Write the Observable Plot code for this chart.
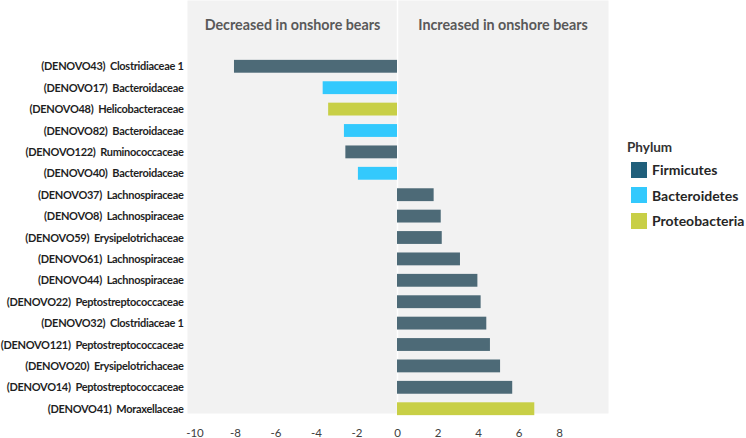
<!DOCTYPE html>
<html>
<head>
<meta charset="utf-8">
<script src="https://cdn.jsdelivr.net/npm/d3@7"></script>
<script src="https://cdn.jsdelivr.net/npm/@observablehq/plot@0.6"></script>
<style>
  html, body { margin: 0; padding: 0; background: #fff; }
  #wrap { position: relative; width: 746px; height: 438px; font-family: Lato, "Open Sans", sans-serif; }
  #wrap g[aria-label="y-axis tick label"] text { letter-spacing: -0.3px; }
  #legend { position: absolute; left: 627px; top: 139px; color: #262626; }
  #legend .title { font-weight: 700; font-size: 13.5px; color: #333; margin-bottom: 2px; }
  #legend .item { display: flex; align-items: center; height: 25.6px; font-weight: 700; font-size: 14px; }
  #legend .sw { width: 16px; height: 16px; margin-left: 4px; margin-right: 5px; }
</style>
</head>
<body>
<div id="wrap"></div>
<script>
const ids = ["DENOVO43","DENOVO17","DENOVO48","DENOVO82","DENOVO122","DENOVO40","DENOVO37","DENOVO8","DENOVO59","DENOVO61","DENOVO44","DENOVO22","DENOVO32","DENOVO121","DENOVO20","DENOVO14","DENOVO41"];
const families = ["Clostridiaceae 1","Bacteroidaceae","Helicobacteraceae","Bacteroidaceae","Ruminococcaceae","Bacteroidaceae","Lachnospiraceae","Lachnospiraceae","Erysipelotrichaceae","Lachnospiraceae","Lachnospiraceae","Peptostreptococcaceae","Clostridiaceae 1","Peptostreptococcaceae","Erysipelotrichaceae","Peptostreptococcaceae","Moraxellaceae"];
const phyla = ["Firmicutes","Bacteroidetes","Proteobacteria","Bacteroidetes","Firmicutes","Bacteroidetes","Firmicutes","Firmicutes","Firmicutes","Firmicutes","Firmicutes","Firmicutes","Firmicutes","Firmicutes","Firmicutes","Firmicutes","Proteobacteria"];
const values = [-8.05,-3.67,-3.4,-2.62,-2.55,-1.93,1.81,2.16,2.21,3.11,3.97,4.13,4.41,4.59,5.09,5.69,6.78];
const phylumNames = ["Firmicutes","Bacteroidetes","Proteobacteria"];
const phylumColors = ["#4d6a77","#33c9fd","#c8cf46"];
const legendColors = ["#205f7b","#33c9fd","#c8cf46"];
const xTicks = [-10,-8,-6,-4,-2,0,2,4,6,8];
const headers = ["Decreased in onshore bears","Increased in onshore bears"];

const xDomain = [-10.37, 10.42];
const labels = ids.map((id, i) => `(${id})\u00a0 ${families[i]}`);
const rows = ids.map((id, i) => ({label: labels[i], value: values[i], phylum: phyla[i]}));
const headerRows = headers.map((h, i) => ({text: h, x: i === 0 ? xDomain[0] / 2 : xDomain[1] / 2}));

const chart = Plot.plot({
  width: 746,
  height: 438,
  marginLeft: 187,
  marginRight: 138,
  marginTop: 0,
  marginBottom: 25,
  style: {fontFamily: "Lato, 'Open Sans', sans-serif", background: "white"},
  x: {domain: xDomain},
  y: {domain: labels, range: [51.3, 423.7], padding: 0.4, round: false},
  color: {domain: phylumNames, range: phylumColors},
  marks: [
    Plot.frame({fill: "#f2f2f2", stroke: null}),
    Plot.ruleX([0], {stroke: "white", strokeWidth: 1.5}),
    Plot.barX(rows, {x: "value", y: "label", fill: "phylum"}),
    Plot.axisX({ticks: xTicks, tickFormat: d => String(d), tickSize: 0, tickPadding: 15, fontSize: 11.5, fill: "#404040", label: null}),
    Plot.axisY({tickSize: 0, tickPadding: 4, fontSize: 11, fontWeight: 700, fill: "#1f1f1f", label: null}),
    Plot.text(headerRows, {x: "x", text: "text", frameAnchor: "top", dy: 19, fontSize: 14.3, fontWeight: 700, fill: "#595959"})
  ]
});

const wrap = document.getElementById("wrap");
wrap.appendChild(chart);

const legend = document.createElement("div");
legend.id = "legend";
legend.innerHTML = `<div class="title">Phylum</div>` + phylumNames.map((p, i) =>
  `<div class="item"><span class="sw" style="background:${legendColors[i]}"></span>${p}</div>`).join("");
wrap.appendChild(legend);
</script>
</body>
</html>
